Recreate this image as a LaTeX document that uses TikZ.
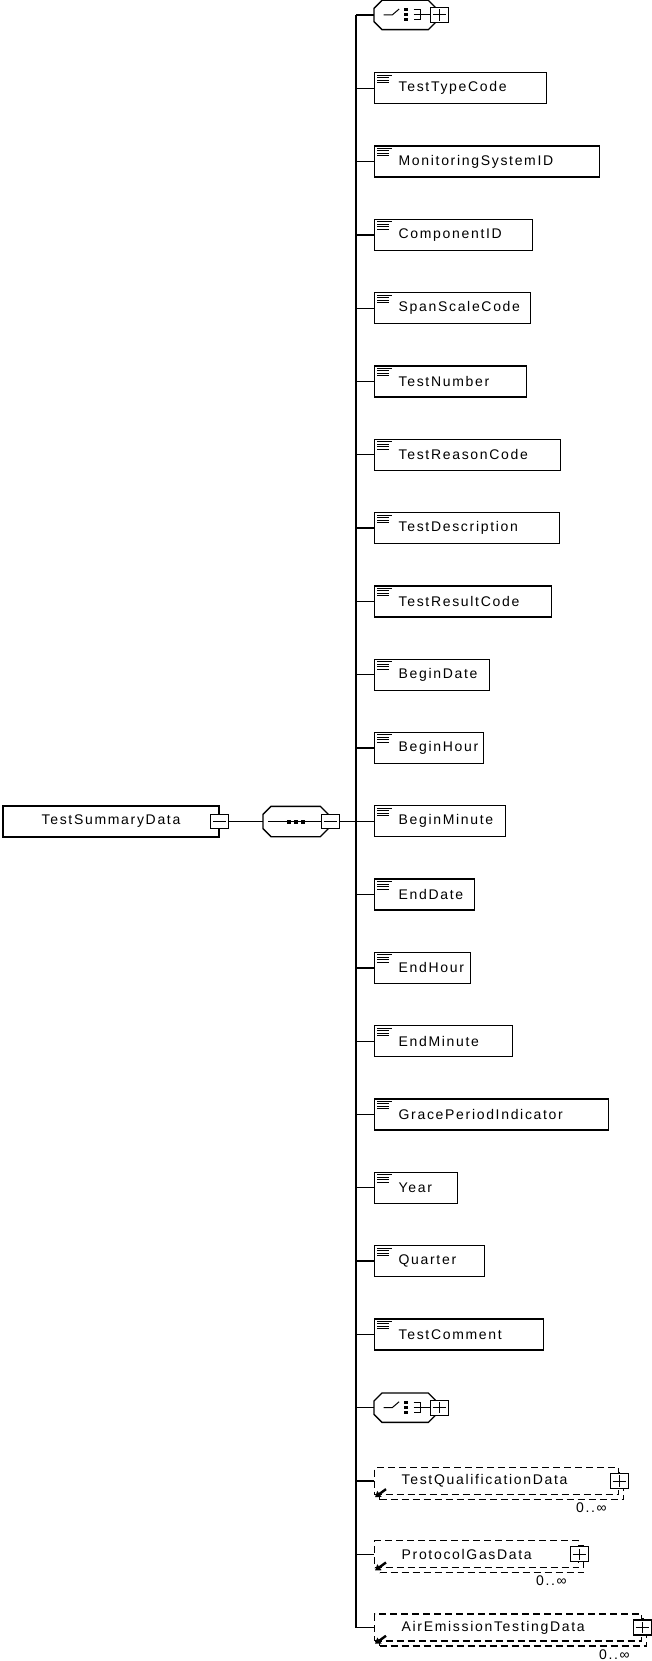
\documentclass[tikz,border=0pt]{standalone}
\usepackage{fontspec}
\setmainfont{Liberation Sans}[LetterSpace=12]
\usetikzlibrary{calc,arrows.meta}

\tikzset{every picture/.style={line width=1.3pt}}
\tikzset{
  lbl/.style={font=\fontsize{14}{16}\selectfont},
  elem/.style={lbl, draw, fill=white, anchor=west, minimum height=31pt, inner xsep=0pt, inner ysep=2pt, align=left},
  root/.style={lbl, draw, fill=white, minimum width=216pt, minimum height=31pt, inner sep=0pt},
  comp/.style={minimum width=61pt, minimum height=28pt, inner sep=0pt, anchor=west},
  pmbox/.style={draw, fill=white, minimum width=18pt, minimum height=14pt, inner sep=0pt},
  optfront/.style={lbl, draw, dash pattern=on 7pt off 4pt, fill=white, anchor=west, minimum height=27pt, inner xsep=0pt, inner ysep=2pt, align=left},
  optback/.style={draw, dash pattern=on 7pt off 4pt, fill=white, anchor=west, minimum height=27pt, inner sep=0pt},
  mult/.style={lbl, anchor=north east, inner sep=0pt},
  sign/.style={line width=1pt},
  icon/.style={line width=0.9pt},
  refarrow/.style={line width=2.4pt, -{Triangle[length=5.5pt,width=7pt]}}
}

% octagon round a compositor node
\newcommand\drawoctagon[1]{%
  \draw[fill=white] ($(#1.north west)+(0,8)$) -- ($(#1.north west)+(8,0)$) -- ($(#1.north east)+(-8,0)$) -- ($(#1.north east)+(0,8)$)
    -- ($(#1.south east)+(0,-8)$) -- ($(#1.south east)+(-8,0)$) -- ($(#1.south west)+(8,0)$) -- ($(#1.south west)+(0,-8)$) -- cycle;}
\newcommand\minussign[1]{\draw[sign] ($(#1.west)+(3,0)$) -- ($(#1.east)+(-3,0)$);}
\newcommand\plussign[1]{\minussign{#1}\draw[sign] ($(#1.north)+(0,2.5)$) -- ($(#1.south)+(0,-2.5)$);}
% choice symbol inside a compositor node
\newcommand\choicemark[1]{%
  \draw[sign] ($(#1.center)+(-21.5,0)$) -- ++(8.5,0) -- ++(7,-6);
  \foreach \dy in {-5,0,5} \fill ($(#1.center)+(-1,\dy-1.5)$) rectangle +(4,3);
  \draw[sign] ($(#1.center)+(8.5,-5.5)$) -- ++(7,0) -- ++(0,10.5) -- ++(-7,0);
  \draw[sign] ($(#1.center)+(8.5,0)$) -- (#1.east);}

\begin{document}
\begin{tikzpicture}[x=1pt,y=1pt,yscale=-1]
\useasboundingbox (0,0) rectangle (652,1661);
\coordinate (bus) at (356,0);

% root element
\node[root] (TestSummaryData) at (111,821.5) {TestSummaryData};
\node[pmbox] (root-m) at (TestSummaryData.east) {};
\minussign{root-m}

% sequence
\node[comp, minimum width=64pt, minimum height=29pt] (seq) at (263,821.5) {};
\draw (root-m.east) -- (seq.west);
\drawoctagon{seq}
\draw[sign] ($(seq.west)+(5,0)$) -- (seq.east);
\foreach \dx in {-7,0,7} \fill ($(seq.center)+(\dx-2,-2)$) rectangle +(4,4);
\node[pmbox] (seq-m) at ($(seq.east)+(2,0)$) {};
\minussign{seq-m}
\draw (seq-m.east) -- (seq-m.east -| bus);

% choices
\node[comp] (chA) at (374,15) {};
\node[comp] (chB) at (374,15+73.3*19) {};
\foreach \c in {chA,chB} {
  \drawoctagon{\c}
  \choicemark{\c}
  \node[pmbox, minimum height=15pt] (\c-p) at ($(\c.east)+(3,0)$) {};
  \plussign{\c-p}
  \draw (\c.west -| bus) -- (\c.west);
}

% elements
\foreach \name/\w [count=\i] in {TestTypeCode/172, MonitoringSystemID/225, ComponentID/158, SpanScaleCode/156,
    TestNumber/152, TestReasonCode/186, TestDescription/185, TestResultCode/177, BeginDate/115, BeginHour/109,
    BeginMinute/131, EndDate/100, EndHour/96, EndMinute/138, GracePeriodIndicator/234, Year/83, Quarter/110, TestComment/169} {
  \node[elem, text width=\w pt] (\name) at (374,15+73.3*\i) {\hspace*{24pt}\name};
  \draw[icon] ($(\name.north west)+(3,3)$) -- +(15,0);
  \foreach \k in {1,2,3} \draw[icon] ($(\name.north west)+(3,3+2.5*\k)$) -- +(12,0);
  \draw (\name.west -| bus) -- (\name.west);
}

% optional repeated elements
\foreach \name/\w [count=\j from 20] in {TestQualificationData/244, ProtocolGasData/204, AirEmissionTestingData/267} {
  \node[optback, minimum width=\w pt] (\name-b) at (379,15+73.3*\j+5) {};
  \node[optfront, text width=\w pt] (\name) at (374,15+73.3*\j) {\hspace*{27pt}\name};
  \node[pmbox, minimum height=15pt] (\name-p) at (\name.east) {};
  \plussign{\name-p}
  \draw[refarrow] ($(\name.south west)+(12,-6)$) -- ($(\name.south west)+(1,2)$);
  \node[mult] (\name-n) at ($(\name-b.south east)+(-17,2)$) {0..∞};
  \draw (\name.west -| bus) -- (\name.west);
}

% spine
\draw (chA.west -| bus) -- (AirEmissionTestingData.west -| bus);

\end{tikzpicture}
\end{document}
